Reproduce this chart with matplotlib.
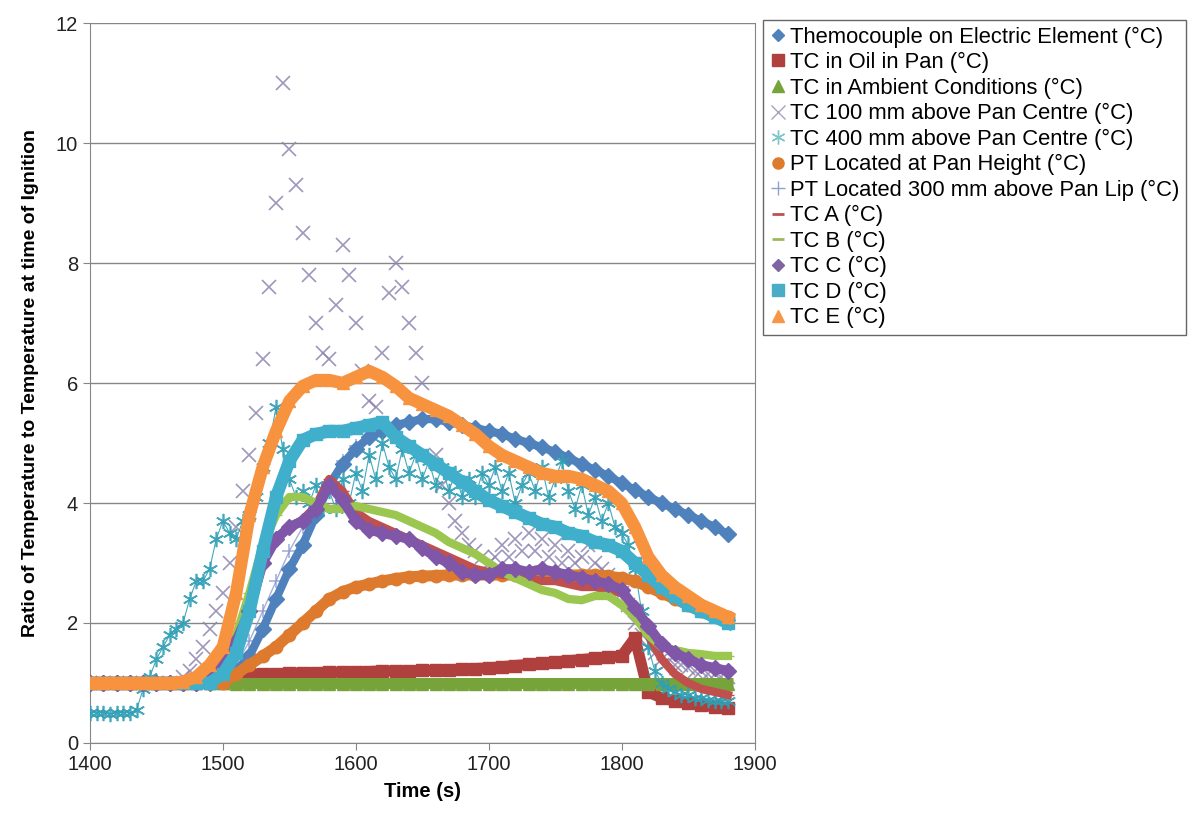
import numpy as np
import matplotlib
matplotlib.use("Agg")
import matplotlib.pyplot as plt
from matplotlib.lines import Line2D

plt.rcParams['font.family'] = ['Liberation Sans', 'DejaVu Sans']

# time axes (s)
t10 = np.arange(1400, 1881, 10)
t5 = np.arange(1400, 1881, 5)

# ratio values, 10 s spacing
elem = [1.0, 1.0, 1.0, 1.0, 1.0, 1.0, 1.0, 1.0, 1.0, 1.0,
        1.05, 1.2, 1.45, 1.9, 2.4, 2.9, 3.3, 3.8, 4.3, 4.65,
        4.9, 5.1, 5.2, 5.3, 5.35, 5.4, 5.4, 5.35, 5.3, 5.25,
        5.2, 5.15, 5.07, 5.0, 4.93, 4.85, 4.75, 4.65, 4.55, 4.45,
        4.33, 4.22, 4.1, 4.0, 3.9, 3.8, 3.7, 3.6, 3.48]
oil = [1.0, 1.0, 1.0, 1.0, 1.0, 1.0, 1.0, 1.0, 1.0, 1.0,
       1.0, 1.1, 1.15, 1.15, 1.15, 1.16, 1.17, 1.17, 1.18, 1.18,
       1.19, 1.19, 1.2, 1.2, 1.2, 1.21, 1.21, 1.22, 1.23, 1.24,
       1.25, 1.27, 1.29, 1.31, 1.33, 1.35, 1.37, 1.39, 1.41, 1.43,
       1.45, 1.75, 0.85, 0.75, 0.7, 0.66, 0.63, 0.6, 0.58]
ambient = [1.0, 1.0, 1.0, 1.0, 1.0, 1.0, 1.0, 1.0, 1.0, 1.0,
           1.0, 0.99, 0.99, 0.99, 0.99, 0.99, 0.99, 0.99, 0.99, 0.99,
           0.99, 0.99, 0.99, 0.99, 0.99, 0.99, 0.99, 0.99, 0.99, 0.99,
           0.99, 0.99, 0.99, 0.99, 0.99, 0.99, 0.99, 0.99, 0.99, 0.99,
           0.99, 0.99, 0.99, 0.99, 0.99, 0.99, 0.99, 0.99, 0.99]
pt_pan = [1.0, 1.0, 1.0, 1.0, 1.0, 1.0, 1.0, 1.0, 1.0, 1.0,
          1.0, 1.15, 1.3, 1.45, 1.6, 1.8, 2.0, 2.2, 2.4, 2.52,
          2.6, 2.65, 2.7, 2.74, 2.77, 2.78, 2.79, 2.8, 2.8, 2.8,
          2.8, 2.8, 2.8, 2.8, 2.8, 2.8, 2.8, 2.8, 2.8, 2.78,
          2.75, 2.7, 2.6, 2.5, 2.4, 2.3, 2.2, 2.15, 2.1]
pt300 = [1.0, 1.0, 1.0, 1.0, 1.0, 1.0, 1.0, 1.0, 1.0, 1.0,
         1.1, 1.3, 1.7, 2.2, 2.7, 3.2, 3.6, 3.95, 4.35, 4.7,
         4.95, 5.1, 5.2, 5.3, 5.35, 5.4, 5.4, 5.35, 5.3, 5.25,
         5.2, 5.15, 5.07, 5.0, 4.93, 4.85, 4.75, 4.65, 4.55, 4.45,
         4.33, 4.22, 4.1, 4.0, 3.9, 3.8, 3.7, 3.6, 3.48]
tc_a = [1.0, 1.0, 1.0, 1.0, 1.0, 1.0, 1.0, 1.0, 1.0, 1.1,
        1.35, 1.7, 2.3, 3.0, 3.4, 3.6, 3.72, 3.95, 4.4, 4.2,
        3.85, 3.7, 3.6, 3.5, 3.4, 3.3, 3.2, 3.1, 3.0, 2.9,
        2.85, 2.8, 2.8, 2.75, 2.7, 2.7, 2.65, 2.6, 2.6, 2.55,
        2.5, 2.3, 1.8, 1.4, 1.15, 1.0, 0.9, 0.85, 0.8]
tc_b = [1.0, 1.0, 1.0, 1.0, 1.0, 1.0, 1.0, 1.0, 1.0, 1.1,
        1.4, 1.8, 2.5, 3.3, 3.8, 4.1, 4.1, 4.0, 3.9, 3.9,
        3.95, 3.9, 3.85, 3.8, 3.7, 3.6, 3.5, 3.35, 3.25, 3.15,
        3.0, 2.85, 2.75, 2.65, 2.55, 2.5, 2.4, 2.38, 2.45, 2.45,
        2.3, 2.1, 1.8, 1.6, 1.55, 1.5, 1.48, 1.45, 1.45]
tc_c = [1.0, 1.0, 1.0, 1.0, 1.0, 1.0, 1.0, 1.0, 1.0, 1.15,
        1.4, 1.7, 2.2, 3.0, 3.4, 3.6, 3.7, 3.9, 4.3, 4.05,
        3.7, 3.55, 3.5, 3.45, 3.4, 3.25, 3.1, 3.0, 2.85, 2.8,
        2.8, 2.9, 2.9, 2.85, 2.9, 2.85, 2.8, 2.75, 2.7, 2.65,
        2.55, 2.25, 1.95, 1.65, 1.5, 1.4, 1.3, 1.25, 1.2]
tc_d = [1.0, 1.0, 1.0, 1.0, 1.0, 1.0, 1.0, 1.0, 1.0, 1.0,
        1.15, 1.5, 2.2, 3.2, 4.1, 4.7, 5.05, 5.15, 5.2, 5.2,
        5.25, 5.3, 5.35, 5.1, 4.95, 4.8, 4.65, 4.5, 4.35, 4.2,
        4.05, 3.95, 3.85, 3.75, 3.65, 3.6, 3.5, 3.45, 3.35, 3.3,
        3.2, 3.0, 2.8, 2.6, 2.45, 2.3, 2.2, 2.1, 2.0]
tc_e = [1.0, 1.0, 1.0, 1.0, 1.0, 1.0, 1.0, 1.02, 1.1, 1.3,
        1.6, 2.5, 3.8, 4.6, 5.2, 5.7, 5.95, 6.05, 6.05, 6.0,
        6.1, 6.2, 6.1, 5.95, 5.75, 5.65, 5.55, 5.45, 5.3, 5.15,
        4.95, 4.8, 4.7, 4.6, 4.5, 4.45, 4.45, 4.4, 4.3, 4.2,
        4.0, 3.6, 3.1, 2.8, 2.6, 2.45, 2.3, 2.2, 2.1]

# noisy series, 5 s spacing
tc100 = [1.0, 1.0, 1.0, 1.0, 1.0, 1.0, 1.0, 1.0, 1.0, 1.0,
         1.0, 1.0, 1.0, 1.0, 1.1, 1.2, 1.4, 1.6, 1.9, 2.2,
         2.5, 3.0, 3.6, 4.2, 4.8, 5.5, 6.4, 7.6, 9.0, 11.0,
         9.9, 9.3, 8.5, 7.8, 7.0, 6.5, 6.4, 7.3, 8.3, 7.8,
         7.0, 6.2, 5.7, 5.6, 6.5, 7.5, 8.0, 7.6, 7.0, 6.5,
         6.0, 5.4, 4.8, 4.3, 4.0, 3.7, 3.5, 3.3, 3.2, 3.1,
         3.0, 3.1, 3.3, 3.1, 3.4, 3.2, 3.5, 3.2, 3.4, 3.1,
         3.3, 3.0, 3.2, 3.0, 3.1, 3.3, 3.0, 2.9, 2.8, 2.7,
         2.5, 2.3, 2.0, 1.8, 1.6, 1.5, 1.4, 1.35, 1.3, 1.3,
         1.25, 1.2, 1.2, 1.15, 1.15, 1.1, 1.1]
tc400 = [0.5, 0.5, 0.5, 0.48, 0.5, 0.5, 0.5, 0.55, 0.9, 1.1,
         1.4, 1.6, 1.8, 1.9, 2.0, 2.4, 2.7, 2.7, 2.9, 3.4,
         3.7, 3.5, 3.4, 3.7, 3.8, 4.1, 4.6, 5.0, 5.6, 4.9,
         4.4, 4.1, 4.2, 4.0, 4.3, 3.9, 4.2, 3.9, 4.4, 4.0,
         4.5, 4.2, 4.8, 4.4, 5.0, 4.6, 4.4, 4.9, 4.5, 4.8,
         4.4, 4.7, 4.3, 4.6, 4.2, 4.5, 4.1, 4.4, 4.1, 4.5,
         4.3, 4.6, 4.2, 4.5, 4.0, 4.3, 4.5, 4.2, 4.6, 4.1,
         4.4, 4.7, 4.2, 3.9, 4.3, 3.8, 4.1, 3.7, 4.0, 3.6,
         3.5, 3.3, 2.9, 2.2, 1.6, 1.2, 1.0, 0.9, 0.85, 0.8,
         0.8, 0.75, 0.75, 0.72, 0.7, 0.7, 0.7]

labels = ['Themocouple on Electric Element (°C)', 'TC in Oil in Pan (°C)',
          'TC in Ambient Conditions (°C)', 'TC 100 mm above Pan Centre (°C)',
          'TC 400 mm above Pan Centre (°C)', 'PT Located at Pan Height (°C)',
          'PT Located 300 mm above Pan Lip (°C)', 'TC A (°C)', 'TC B (°C)',
          'TC C (°C)', 'TC D (°C)', 'TC E (°C)']

fig = plt.figure(figsize=(11.92, 8.31), dpi=100)
ax = fig.add_axes([0.0755, 0.106, 0.5575, 0.866])

grey = '#868686'
ax.set_xlim(1400, 1900)
ax.set_ylim(0, 12)
ax.set_xticks(np.arange(1400, 1901, 100))
ax.set_yticks(np.arange(0, 13, 2))
ax.yaxis.grid(True, color=grey, lw=1)
ax.set_axisbelow(True)
for s in ax.spines.values():
    s.set_color(grey)
ax.spines['top'].set_visible(False)
ax.tick_params(colors=grey, labelcolor='#222222', labelsize=14.5, length=5, direction='out')

# series in Excel order (later on top)
lw, ms = 8, 9
handles = []
ax.plot(t10, pt300, color='#7F8FCC', lw=1.0, alpha=0.7, marker='+', ms=10, mew=1.2, zorder=2.5)
ax.plot(t10, elem, color='#4F81BD', lw=lw - 2, marker='D', ms=ms - 1, zorder=3)
handles.append(Line2D([], [], ls='none', marker='D', ms=6, color='#4F81BD'))
ax.plot(t10, oil, color='#B0403D', lw=lw, marker='s', ms=ms, zorder=4)
handles.append(Line2D([], [], ls='none', marker='s', ms=8, color='#B0403D'))
ax.plot(t10, ambient, color='#77A33B', lw=lw, marker='^', ms=ms, zorder=5)
handles.append(Line2D([], [], ls='none', marker='^', ms=8, color='#77A33B'))
ax.plot(t5, tc100, ls='none', color='#8E84B0', alpha=0.85, marker='x', ms=10, mew=1.2, zorder=2)
handles.append(Line2D([], [], ls='none', marker='x', ms=10, mew=1, color='#A9A4BE'))
ax.plot(t5, tc400, color='#2F9FB5', lw=0.8, alpha=0.9, marker=(6, 2, 0), ms=11, mew=1.2, zorder=6)
handles.append(Line2D([], [], ls='none', marker=(6, 2, 0), ms=10, mew=1, color='#7FC6C9'))
ax.plot(t10, pt_pan, color='#DD7A2E', lw=lw, marker='o', ms=ms, zorder=7)
handles.append(Line2D([], [], ls='none', marker='o', ms=8, color='#DD7A2E'))
handles.append(Line2D([], [], ls='none', marker='+', ms=10, mew=1, color='#8FA3C8'))
ax.plot(t10, tc_a, color='#C0504D', lw=lw - 2, marker='_', ms=ms, zorder=8)
handles.append(Line2D([], [], ls='none', marker='_', ms=8, mew=2, color='#C0504D'))
ax.plot(t10, tc_b, color='#9BC750', lw=lw - 2, marker='_', ms=ms, zorder=9)
handles.append(Line2D([], [], ls='none', marker='_', ms=8, mew=2, color='#9BBB59'))
ax.plot(t10, tc_c, color='#8056A8', lw=lw - 1, marker='D', ms=ms - 1, zorder=10)
handles.append(Line2D([], [], ls='none', marker='D', ms=6, color='#8064A2'))
ax.plot(t10, tc_d, color='#3FAFCB', lw=lw + 1, marker='s', ms=ms, zorder=11)
handles.append(Line2D([], [], ls='none', marker='s', ms=8, color='#4BACC6'))
ax.plot(t10, tc_e, color='#F7923F', lw=lw + 1, marker='^', ms=ms, zorder=12)
handles.append(Line2D([], [], ls='none', marker='^', ms=8, color='#F79646'))

ax.set_xlabel('Time (s)', fontsize=14.5, fontweight='bold', labelpad=6)
ax.set_ylabel('Ratio of Temperature to Temperature at time of Ignition',
              fontsize=14, fontweight='bold', labelpad=12)

leg = fig.legend(handles, labels, loc='upper left', bbox_to_anchor=(0.640, 0.976),
                 fontsize=15.8, frameon=True, fancybox=False, borderaxespad=0,
                 handlelength=0.8, handletextpad=0.15, labelspacing=0.2, borderpad=0.3)
leg.get_frame().set_edgecolor('#404040')
leg.get_frame().set_linewidth(1.0)

fig.savefig('out.png', dpi=100)
